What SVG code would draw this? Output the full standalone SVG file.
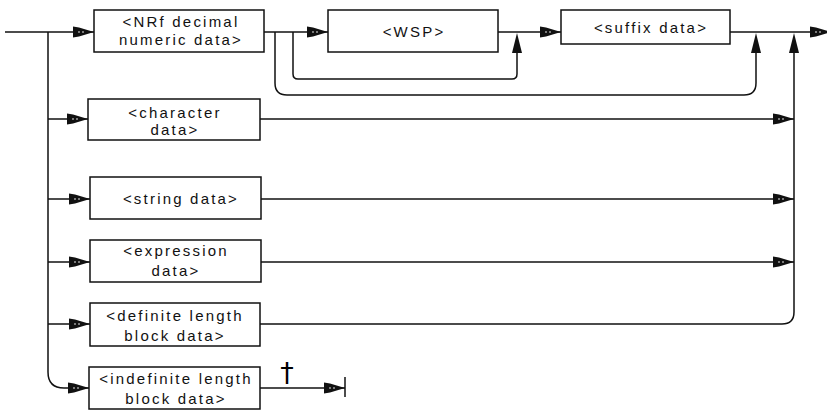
<svg xmlns="http://www.w3.org/2000/svg" width="827" height="411" viewBox="0 0 827 411">
<style>
.box{fill:#fff;stroke:#111;stroke-width:1.5}
.ln{fill:none;stroke:#111;stroke-width:1.5}
.t{font-family:"Liberation Sans",Arial,sans-serif;font-size:15px;fill:#111;text-anchor:middle;letter-spacing:2.2px}
.ar{fill:#111}
.dot{fill:#fff}
</style>
<defs>
<g id="rarrow">
<path class="ar" d="M-21,-5.5 L-15,-4.5 L0,0 L-15,4.5 L-21,5.5 Z"/>
<circle class="dot" cx="-15" cy="0" r="0.8"/>
<circle class="dot" cx="-11" cy="0" r="0.8"/>
</g>
<path id="uarrow" class="ar" d="M0,0 L-5,20 L5,20 Z"/>
</defs>

<g id="connectors">
<path class="ln" d="M5,32 H94"/>
<path class="ln" d="M264,32 H328"/>
<path class="ln" d="M498,32 H561"/>
<path class="ln" d="M730,32 H827"/>
<path class="ln" d="M293,32 V74 Q293,79 298,79 H512 Q517,79 517,74 V52"/>
<path class="ln" d="M275,32 V83 Q275,95 287,95 H744 Q756,95 756,83 V52"/>
<path class="ln" d="M48,32 V372 Q48,388 64,388 H89"/>
<path class="ln" d="M48,119 H88"/>
<path class="ln" d="M48,199 H90"/>
<path class="ln" d="M48,262 H90"/>
<path class="ln" d="M48,324 H90"/>
<path class="ln" d="M260,119 H794"/>
<path class="ln" d="M261,199 H794"/>
<path class="ln" d="M261,262 H794"/>
<path class="ln" d="M260,324 H782 Q794,324 794,312 V52"/>
<path class="ln" d="M260,388 H345"/>
<path class="ln" d="M345,377 V397"/>
<use href="#rarrow" x="94" y="32"/>
<use href="#rarrow" x="328" y="32"/>
<use href="#rarrow" x="561" y="32"/>
<use href="#rarrow" x="831" y="32"/>
<use href="#rarrow" x="88" y="119"/>
<use href="#rarrow" x="90" y="199"/>
<use href="#rarrow" x="90" y="262"/>
<use href="#rarrow" x="90" y="324"/>
<use href="#rarrow" x="89" y="388"/>
<use href="#rarrow" x="794" y="119"/>
<use href="#rarrow" x="794" y="199"/>
<use href="#rarrow" x="794" y="262"/>
<use href="#rarrow" x="345" y="388"/>
<use href="#uarrow" x="517" y="33"/>
<use href="#uarrow" x="756" y="33"/>
<use href="#uarrow" x="794" y="33"/>
<text x="287" y="382" style="font-family:'DejaVu Sans',sans-serif;font-size:27px;fill:#000;text-anchor:middle">†</text>
</g>

<g id="n-nrf">
<rect class="box" x="94" y="10" width="170" height="42"/>
<text class="t" x="181" y="27">&lt;NRf decimal</text>
<text class="t" x="181" y="45">numeric data&gt;</text>
</g>
<g id="n-wsp">
<rect class="box" x="328" y="10" width="170" height="42"/>
<text class="t" x="414" y="37">&lt;WSP&gt;</text>
</g>
<g id="n-suffix">
<rect class="box" x="561" y="10" width="169" height="34"/>
<text class="t" x="651" y="33">&lt;suffix data&gt;</text>
</g>
<g id="n-char">
<rect class="box" x="88" y="99" width="172" height="41"/>
<text class="t" x="175" y="118">&lt;character</text>
<text class="t" x="175" y="135">data&gt;</text>
</g>
<g id="n-string">
<rect class="box" x="90" y="177" width="171" height="42"/>
<text class="t" x="181" y="204">&lt;string data&gt;</text>
</g>
<g id="n-expr">
<rect class="box" x="90" y="240" width="171" height="42"/>
<text class="t" x="176" y="256">&lt;expression</text>
<text class="t" x="176" y="276">data&gt;</text>
</g>
<g id="n-def">
<rect class="box" x="90" y="303" width="170" height="43"/>
<text class="t" x="175" y="321">&lt;definite length</text>
<text class="t" x="175" y="341">block data&gt;</text>
</g>
<g id="n-indef">
<rect class="box" x="89" y="367" width="171" height="42"/>
<text class="t" x="176" y="384">&lt;indefinite length</text>
<text class="t" x="176" y="404">block data&gt;</text>
</g>
</svg>
